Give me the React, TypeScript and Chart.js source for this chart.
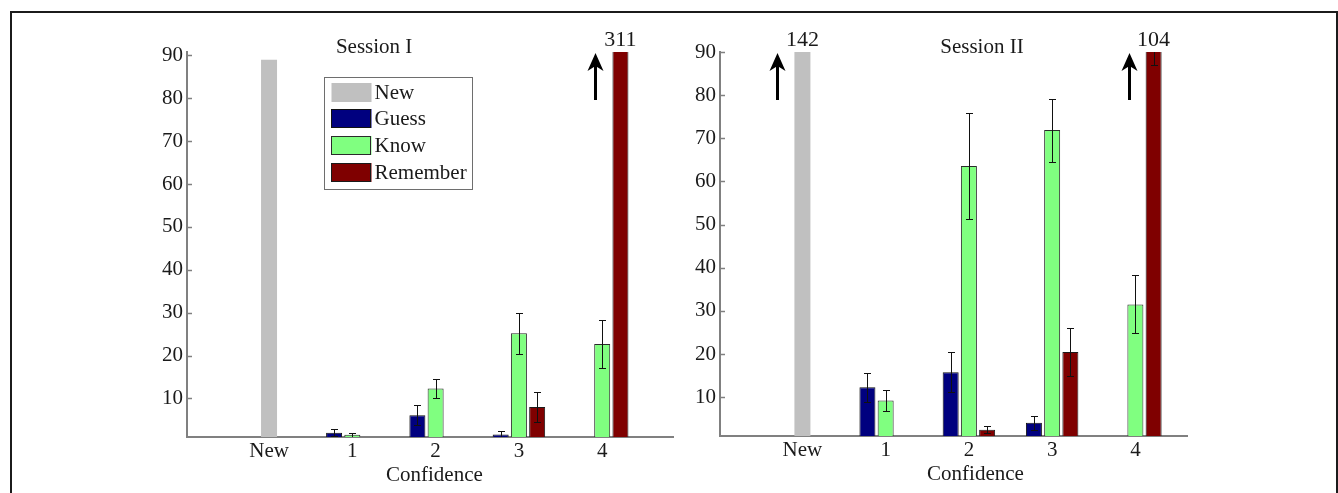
import React, { useEffect, useRef } from "react";
import { Chart, registerables } from "chart.js";

Chart.register(...registerables);

type Num = number | null;

// ---------- data ----------
const categories = ["New", "1", "2", "3", "4"];
const xPositions = [0, 1, 2, 3, 4];
const yTicks = [10, 20, 30, 40, 50, 60, 70, 80, 90];
const seriesNames = ["New", "Guess", "Know", "Remember"];
const xAxisTitle = "Confidence";

// Session I
const s1New: Num[] = [89, null, null, null, null];
const s1Guess: Num[] = [null, 2.0, 6.1, 1.6, 0];
const s1Know: Num[] = [null, 1.5, 12.3, 25.2, 22.7];
const s1Remember: Num[] = [null, 0, 0, 8.0, 311];
const s1GuessErr: Num[] = [null, 0.8, 2.3, 0.7, 0];
const s1KnowErr: Num[] = [null, 0.5, 2.3, 4.8, 5.5];
const s1RememberErr: Num[] = [null, 0, 0, 3.4, 0];

// Session II
const s2New: Num[] = [142, null, null, null, null];
const s2Guess: Num[] = [null, 12.3, 15.8, 4.05, 0];
const s2Know: Num[] = [null, 9.2, 63.6, 71.9, 31.5];
const s2Remember: Num[] = [null, 0, 2.45, 20.45, 104];
const s2GuessErr: Num[] = [null, 3.4, 4.7, 1.55, 0];
const s2KnowErr: Num[] = [null, 2.35, 12.3, 7.3, 6.7];
const s2RememberErr: Num[] = [null, 0, 0.8, 5.5, 17];

// ---------- styles ----------
const FONT = '"Liberation Serif", "Times New Roman", serif';
const TEXT = "#1a1a1a";
const AXIS = "#808080";
const seriesColors = ["#c0c0c0", "#00007f", "#80ff80", "#7f0000"];
const seriesBorders: (string | null)[] = [null, "#111111", "#2a2a2a", "#1a1a1a"];

interface PanelSpec {
  title: string;
  values: Num[][];
  errors: (Num[] | null)[];
  yMax: number;
  xMin: number;
  xMax: number;
  padding: { left: number; right: number; top: number; bottom: number };
  titleFrac: number;
  xTitleFrac: number;
  showLegend: boolean;
  canvas: { left: number; width: number; height: number };
}

const panels: PanelSpec[] = [
  {
    title: "Session I",
    values: [s1New, s1Guess, s1Know, s1Remember],
    errors: [null, s1GuessErr, s1KnowErr, s1RememberErr],
    yMax: 90.8,
    xMin: -0.985,
    xMax: 4.85,
    padding: { left: 127, right: 27, top: 52, bottom: 6 },
    titleFrac: 0.385,
    xTitleFrac: 0.509,
    showLegend: true,
    canvas: { left: 0, width: 700, height: 493 },
  },
  {
    title: "Session II",
    values: [s2New, s2Guess, s2Know, s2Remember],
    errors: [null, s2GuessErr, s2KnowErr, s2RememberErr],
    yMax: 90,
    xMin: -0.99,
    xMax: 4.62,
    padding: { left: 20, right: 151, top: 52, bottom: 7 },
    titleFrac: 0.561,
    xTitleFrac: 0.547,
    showLegend: false,
    canvas: { left: 640, width: 698, height: 493 },
  },
];

function makeChart(canvas: HTMLCanvasElement, spec: PanelSpec) {
  const decor = {
    id: "decor",
    afterDatasetsDraw(chart: any) {
      const ctx = chart.ctx as CanvasRenderingContext2D;
      const area = chart.chartArea;
      const ys = chart.scales.y;
      // error bars (clipped to plot area)
      ctx.save();
      ctx.beginPath();
      ctx.rect(area.left, area.top, area.right - area.left, area.bottom - area.top);
      ctx.clip();
      ctx.strokeStyle = "#111";
      ctx.lineWidth = 1;
      spec.errors.forEach((errs, k) => {
        if (!errs) return;
        const meta = chart.getDatasetMeta(k);
        errs.forEach((e, i) => {
          const v = spec.values[k][i];
          if (v == null || e == null || e <= 0) return;
          const bar = meta.data[i];
          const x = Math.round(bar.x) + 0.5;
          const y1 = Math.round(ys.getPixelForValue(v + e)) + 0.5;
          const y2 = Math.round(ys.getPixelForValue(v - e)) + 0.5;
          ctx.beginPath();
          ctx.moveTo(x, y1);
          ctx.lineTo(x, y2);
          ctx.moveTo(x - 3.5, y1);
          ctx.lineTo(x + 3.5, y1);
          ctx.moveTo(x - 3.5, y2);
          ctx.lineTo(x + 3.5, y2);
          ctx.stroke();
        });
      });
      ctx.restore();
    },
    afterDraw(chart: any) {
      const ctx = chart.ctx as CanvasRenderingContext2D;
      const area = chart.chartArea;
      const ys = chart.scales.y;
      const w = area.right - area.left;
      ctx.save();
      // inward y tick marks
      ctx.strokeStyle = AXIS;
      ctx.lineWidth = 1.5;
      yTicks.forEach((t) => {
        const y = Math.round(ys.getPixelForValue(t)) + 0.5;
        ctx.beginPath();
        ctx.moveTo(area.left, y);
        ctx.lineTo(area.left + 5, y);
        ctx.stroke();
      });
      // off-scale bars: arrow + value
      spec.values.forEach((arr, k) => {
        const meta = chart.getDatasetMeta(k);
        arr.forEach((v, i) => {
          if (v == null || v <= spec.yMax) return;
          const bar = meta.data[i];
          const ax = Math.round(bar.x - 25) + 0.5;
          const tip = area.top + 1;
          ctx.strokeStyle = "#000";
          ctx.fillStyle = "#000";
          ctx.lineWidth = 3;
          ctx.beginPath();
          ctx.moveTo(ax, area.top + 48);
          ctx.lineTo(ax, tip + 12);
          ctx.stroke();
          ctx.beginPath();
          ctx.moveTo(ax, tip);
          ctx.lineTo(ax + 8, tip + 18);
          ctx.lineTo(ax, tip + 13);
          ctx.lineTo(ax - 8, tip + 18);
          ctx.closePath();
          ctx.fill();
          ctx.fillStyle = TEXT;
          ctx.font = `22px ${FONT}`;
          ctx.textAlign = "center";
          ctx.textBaseline = "alphabetic";
          ctx.fillText(String(v), bar.x, area.top - 6);
        });
      });
      // title
      ctx.fillStyle = TEXT;
      ctx.font = `21px ${FONT}`;
      ctx.textAlign = "center";
      ctx.textBaseline = "alphabetic";
      ctx.fillText(spec.title, area.left + spec.titleFrac * w, area.top + 0.5);
      // x axis title
      ctx.fillText(xAxisTitle, area.left + spec.xTitleFrac * w, area.bottom + 44);
      // legend
      if (spec.showLegend) {
        const lx = Math.round(area.left + 137) + 0.5;
        const ly = Math.round(area.top + 25) + 0.5;
        const lw = 148;
        const lh = 112;
        ctx.fillStyle = "#fff";
        ctx.fillRect(lx, ly, lw, lh);
        ctx.strokeStyle = "#6e6e6e";
        ctx.lineWidth = 1;
        ctx.strokeRect(lx, ly, lw, lh);
        seriesNames.forEach((name, k) => {
          const sy = Math.round(ly + 5 + k * 26.9);
          ctx.fillStyle = seriesColors[k];
          ctx.fillRect(lx + 7, sy, 40, 19);
          const b = seriesBorders[k];
          if (b) {
            ctx.strokeStyle = b;
            ctx.strokeRect(lx + 7, sy + 0.5, 39, 18);
          }
          ctx.fillStyle = TEXT;
          ctx.font = `21px ${FONT}`;
          ctx.textAlign = "left";
          ctx.textBaseline = "middle";
          ctx.fillText(name, lx + 50, sy + 10);
        });
      }
      ctx.restore();
    },
  };

  const datasets = seriesNames.map((name, k) => ({
    label: name,
    data: xPositions.map((x, i) => ({ x, y: spec.values[k][i] })),
    backgroundColor: seriesColors[k],
    borderColor: seriesBorders[k] ?? seriesColors[k],
    borderWidth: seriesBorders[k] ? 1 : 0,
    clip: 0,
    skipNull: true,
    grouped: true,
    categoryPercentage: 0.657,
    barPercentage: 0.88,
    maxBarThickness: 16,
  }));

  return new Chart(canvas, {
    type: "bar",
    data: { datasets } as any,
    plugins: [decor],
    options: {
      responsive: false,
      animation: false,
      devicePixelRatio: 1,
      layout: { padding: spec.padding },
      plugins: {
        legend: { display: false },
        tooltip: { enabled: false },
        title: { display: false },
      },
      scales: {
        x: {
          type: "linear",
          offset: false,
          min: spec.xMin,
          max: spec.xMax,
          afterBuildTicks: (s: any) => {
            s.ticks = xPositions.map((v) => ({ value: v }));
          },
          afterFit: (s: any) => {
            s.height = 50;
            s.paddingLeft = 0;
            s.paddingRight = 0;
          },
          ticks: {
            autoSkip: false,
            maxRotation: 0,
            padding: 2,
            color: TEXT,
            font: { family: FONT, size: 21 },
            callback: (v: any) => {
              const idx = xPositions.indexOf(Number(v));
              return idx >= 0 ? categories[idx] : "";
            },
          },
          grid: { display: true, offset: false, drawOnChartArea: false, drawTicks: false, color: AXIS },
          border: { display: true, color: AXIS, width: 2 },
        },
        y: {
          type: "linear",
          min: 1,
          max: spec.yMax,
          afterBuildTicks: (s: any) => {
            s.ticks = yTicks.map((v) => ({ value: v }));
          },
          afterFit: (s: any) => {
            s.width = 60;
            s.paddingTop = 0;
            s.paddingBottom = 0;
          },
          ticks: {
            padding: 4,
            color: TEXT,
            font: { family: FONT, size: 21 },
          },
          grid: { display: true, drawOnChartArea: false, drawTicks: false, color: AXIS },
          border: { display: true, color: AXIS, width: 2 },
        },
      },
    } as any,
  });
}

function Panel({ spec }: { spec: PanelSpec }) {
  const ref = useRef<HTMLCanvasElement | null>(null);
  useEffect(() => {
    if (!ref.current) return;
    const chart = makeChart(ref.current, spec);
    return () => chart.destroy();
  }, [spec]);
  return (
    <canvas
      ref={ref}
      width={spec.canvas.width}
      height={spec.canvas.height}
      style={{
        position: "absolute",
        left: spec.canvas.left,
        top: 0,
        width: spec.canvas.width,
        height: spec.canvas.height,
      }}
    />
  );
}

export default function App() {
  return (
    <div
      style={{
        position: "fixed",
        left: 0,
        top: 0,
        width: 1338,
        height: 493,
        overflow: "hidden",
        background: "#fff",
      }}
    >
      <div
        style={{
          position: "absolute",
          left: 10,
          top: 11,
          width: 1328,
          height: 482,
          boxSizing: "border-box",
          borderTop: "2px solid #1b1b1b",
          borderLeft: "2px solid #1b1b1b",
          borderRight: "2px solid #1b1b1b",
        }}
      />
      {panels.map((p, i) => (
        <Panel key={i} spec={p} />
      ))}
    </div>
  );
}
